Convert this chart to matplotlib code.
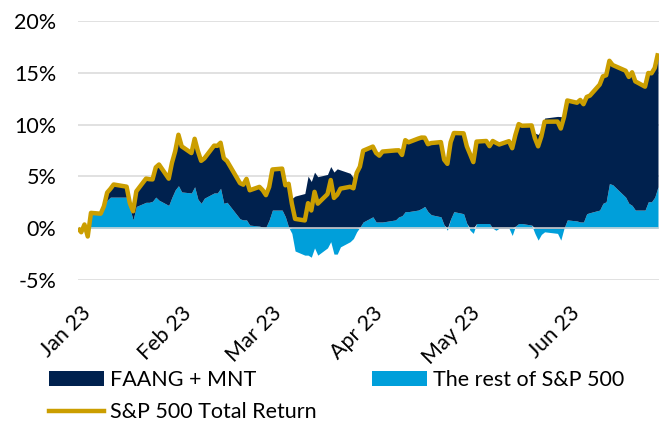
import numpy as np
import pandas as pd
import matplotlib
matplotlib.use("Agg")
import matplotlib.pyplot as plt
import matplotlib.dates as mdates
from matplotlib.transforms import offset_copy
from matplotlib.patches import Patch
from matplotlib.lines import Line2D

# ---------------- data (in %) ----------------
base_date = "2023-01-02"
first_trading_day, last_trading_day = "2023-01-03", "2023-06-30"
market_holidays = ["2023-01-16", "2023-02-20", "2023-04-07", "2023-05-29", "2023-06-19"]

sp500_total_return = [
    0.00, -0.39, 0.36, -0.80, 1.48, 1.40, 2.12, 3.44, 3.80, 4.22,
    4.01, 2.41, 1.63, 3.56, 4.79, 4.73, 4.71, 5.87, 6.15, 4.78,
    6.32, 7.43, 9.02, 7.90, 7.25, 8.63, 7.44, 6.50, 6.74, 7.97,
    7.95, 8.25, 6.76, 6.48, 4.35, 4.20, 4.76, 3.66, 3.99, 3.67,
    3.19, 3.98, 5.67, 5.75, 4.14, 4.29, 2.37, 0.90, 0.75, 2.42,
    1.71, 3.51, 2.37, 3.29, 4.65, 2.92, 3.23, 3.82, 4.00, 3.85,
    5.33, 5.94, 7.48, 7.88, 7.26, 7.00, 7.40, 7.51, 7.52, 7.07,
    8.50, 8.29, 8.65, 8.75, 8.74, 8.11, 8.22, 8.31, 6.61, 6.21,
    8.30, 9.19, 9.16, 7.90, 7.15, 6.38, 8.36, 8.42, 7.92, 8.42,
    8.24, 8.08, 8.40, 7.72, 9.01, 10.05, 9.89, 9.92, 8.69, 7.90,
    8.86, 10.28, 10.29, 9.62, 10.72, 12.33, 12.11, 12.38, 11.97, 12.67,
    12.80, 13.86, 14.66, 14.76, 16.16, 15.75, 15.20, 14.60, 15.05, 14.17,
    13.66, 14.98, 14.95, 15.47, 16.89,
]
rest_of_sp500 = [
    0.0, -0.3, 0.3, -0.7, 1.4, 1.4, 2.0, 2.7, 3.0, 3.0,
    3.0, 1.9, 0.8, 2.1, 2.5, 2.5, 2.6, 3.0, 2.7, 2.2,
    3.0, 3.7, 4.1, 3.5, 3.4, 4.0, 2.8, 2.4, 2.9, 3.4,
    3.4, 3.85, 2.4, 2.5, 0.9, 0.8, 0.8, 0.3, 0.2, 0.1,
    0.1, 0.8, 1.75, 1.75, 1.1, 0.1, -0.5, -2.2, -2.6, -2.6,
    -2.8, -1.9, -2.6, -1.9, -1.3, -2.5, -2.5, -1.8, -1.3, -1.0,
    -0.35, 0.1, 0.6, 1.1, 0.6, 0.6, 0.6, 0.8, 1.1, 1.2,
    1.6, 1.6, 1.75, 1.9, 2.1, 1.6, 1.3, 1.1, 0.3, -0.2,
    0.9, 1.6, 1.4, 0.45, -0.2, -0.5, 0.45, 0.45, 0.45, 0.0,
    -0.2, 0.0, 0.0, -0.7, 0.2, 0.45, 0.45, 0.3, -0.5, -1.15,
    -0.6, -0.35, -0.5, -1.15, 0.0, 0.8, 0.7, 0.6, 0.6, 1.4,
    1.5, 1.75, 2.4, 2.55, 4.3, 4.2, 3.0, 2.4, 2.2, 1.75,
    1.75, 2.55, 2.55, 3.0, 4.0,
]
month_starts = ["2023-01-01", "2023-02-01", "2023-03-01", "2023-04-01", "2023-05-01", "2023-06-01"]
month_labels = ["Jan 23", "Feb 23", "Mar 23", "Apr 23", "May 23", "Jun 23"]
y_ticks = [-5, 0, 5, 10, 15, 20]
series_names = ["FAANG + MNT", "The rest of S&P 500", "S&P 500 Total Return"]

# ---------------- build x (calendar dates of trading days) ----------------
trading = pd.bdate_range(first_trading_day, last_trading_day)
trading = trading[~trading.isin(pd.to_datetime(market_holidays))]
dates = pd.DatetimeIndex([pd.Timestamp(base_date)]).append(trading)
assert len(dates) == len(sp500_total_return) == len(rest_of_sp500)

# ---------------- styling / layout ----------------
DARK = "#00214E"
LIGHT = "#009FDA"
GOLD = "#CB9E00"
GRID = "#D9D9D9"
plt.rcParams["font.family"] = ["Lato", "DejaVu Sans"]
FS = 15.5

W, H = 659, 425
fig = plt.figure(figsize=(W / 100, H / 100), dpi=100)
ax = fig.add_axes([78 / W, 145 / H, 581 / W, 259 / H])

total = np.array(sp500_total_return)
rest = np.array(rest_of_sp500)
faang = total - rest
x = mdates.date2num(dates.to_pydatetime())

rest_pos = np.clip(rest, 0, None)
rest_neg = np.clip(rest, None, 0)
faang_base = np.where(faang >= 0, rest_pos, rest_neg)

ax.fill_between(x, 0, rest, color=LIGHT, lw=0, zorder=2)
ax.fill_between(x, faang_base, faang_base + faang, color=DARK, lw=0, zorder=2)
ax.axhline(0, color=GRID, lw=1.1, zorder=3)
ax.plot(x, total, color=GOLD, lw=3.2, solid_joinstyle="round",
        solid_capstyle="butt", zorder=4)

span = x[-1] - x[0]
ax.set_xlim(x[0], x[-1] + span / 580)
ax.set_ylim(-5, 20)
ax.set_yticks(y_ticks)
ax.set_yticklabels([f"{v}%" for v in y_ticks])
ax.tick_params(axis="y", length=0, pad=15.5, labelsize=FS, labelcolor="#000000")
ax.set_xticks([])
ax.grid(axis="y", color=GRID, lw=1.1, zorder=0)
ax.set_axisbelow(True)
for s in ax.spines.values():
    s.set_visible(False)

# rotated month labels at month starts
lab_tr = offset_copy(ax.get_xaxis_transform(), fig=fig, x=6, y=-23, units="dots")
for d, lab in zip(month_starts, month_labels):
    ax.text(mdates.date2num(pd.Timestamp(d)), 0, lab, transform=lab_tr,
            rotation=45, rotation_mode="anchor", ha="right", va="top",
            fontsize=FS, clip_on=False)

# legend
h_dark = Patch(facecolor=DARK, edgecolor="none")
h_light = Patch(facecolor=LIGHT, edgecolor="none")
h_line = Line2D([], [], color=GOLD, lw=3.2)
common = dict(frameon=False, fontsize=FS, handlelength=55 / 21.5, handleheight=0.66,
              handletextpad=0.28, borderpad=0, borderaxespad=0, loc="center left")
fig.legend([h_dark], [series_names[0]], bbox_to_anchor=(49 / W, 1 - 380 / H), **common)
fig.legend([h_light], [series_names[1]], bbox_to_anchor=(372 / W, 1 - 380 / H), **common)
fig.legend([h_line], [series_names[2]], bbox_to_anchor=(49 / W, 1 - 412 / H), **common)

fig.savefig("out.png", dpi=100)
